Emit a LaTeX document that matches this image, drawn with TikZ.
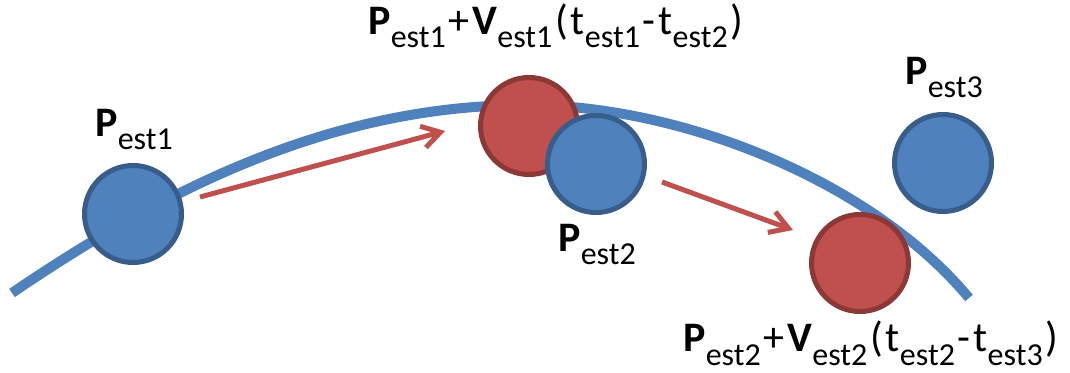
\documentclass[tikz,border=0pt]{standalone}
\usepackage{fontspec}
\setmainfont{Carlito}
\usetikzlibrary{arrows.meta}
\definecolor{bfill}{HTML}{4F81BD}
\definecolor{bline}{HTML}{385D8A}
\definecolor{rfill}{HTML}{C0504D}
\definecolor{rline}{HTML}{8C3836}
\newcommand{\mysb}[1]{\raisebox{-6.5pt}{\fontsize{16}{16}\selectfont #1}}
\newcommand{\gp}{\kern1.45pt}
\begin{document}
\begin{tikzpicture}[x=0.5pt,y=-0.5pt,
  bluedot/.style={circle,draw=bline,fill=bfill,line width=2.5pt,minimum size=48.5pt,inner sep=0pt},
  reddot/.style={circle,draw=rline,fill=rfill,line width=2.5pt,minimum size=48.5pt,inner sep=0pt},
  lbl/.style={anchor=base west,inner sep=0pt,font=\fontsize{21}{22}\selectfont},
  vel/.style={draw=rfill,line width=2.5pt,-{Straight Barb[length=9pt,width=11pt]}},
  traj/.style={draw=bfill,line width=5pt}]
\useasboundingbox (0,0) rectangle (1070,373);
\draw[traj] (12,293) .. controls (172,184) and (337,105) .. (527,105)
                     .. controls (677,105) and (869,178) .. (969,298);
\node[bluedot] (p1) at (133,214) {};
\node[reddot] (r1) at (529,126) {};
\node[bluedot] (p2) at (596,164) {};
\node[bluedot] (p3) at (943,163) {};
\node[reddot] (r2) at (860,263) {};
\coordinate (a1s) at (200,197);
\coordinate (a1e) at (445,131);
\coordinate (a2s) at (662,182);
\coordinate (a2e) at (793,230);
\draw[vel] (a1s) -- (a1e);
\draw[vel] (a2s) -- (a2e);
\node[lbl] (l1) at (95,137) {\textbf{P}\mysb{est1}};
\node[lbl] (l2) at (558,252) {\textbf{P}\mysb{est2}};
\node[lbl] (l3) at (905,85) {\textbf{P}\mysb{est3}};
\node[lbl] (lt) at (368,35) {\textbf{P}\mysb{est1}\gp+\gp\textbf{V}\mysb{est1}\gp(\gp t\mysb{est1}\gp-\gp t\mysb{est2}\gp)};
\node[lbl] (lb) at (683,352) {\textbf{P}\mysb{est2}\gp+\gp\textbf{V}\mysb{est2}\gp(\gp t\mysb{est2}\gp-\gp t\mysb{est3}\gp)};
\end{tikzpicture}
\end{document}
